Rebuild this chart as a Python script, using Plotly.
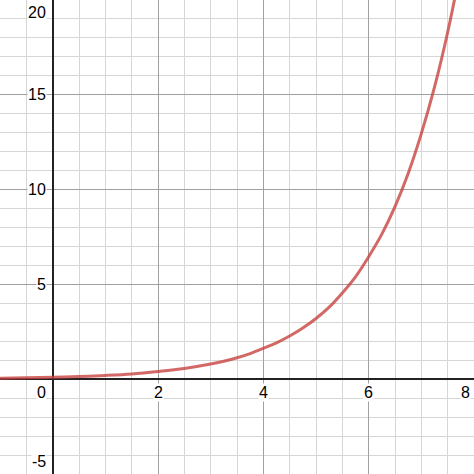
import plotly.graph_objects as go

# curve values
x_vals = [-1, -0.5, 0, 0.5, 1, 1.5, 2, 2.5, 3, 3.25, 3.5, 3.75, 4, 4.25, 4.5, 4.75,
          5, 5.25, 5.5, 5.75, 6, 6.25, 6.5, 6.75, 7, 7.25, 7.5, 7.75]
y_vals = [0.05, 0.07, 0.10, 0.14, 0.2, 0.28, 0.41, 0.57, 0.8, 0.95, 1.13, 1.35, 1.63, 1.92,
          2.28, 2.7, 3.2, 3.8, 4.55, 5.4, 6.46, 7.65, 9.1, 10.85, 12.95, 15.4, 18.3, 21.7]

x_ticks = [2, 4, 6, 8]
y_ticks = [-5, 5, 10, 15, 20]
x_range = [-1, 8]
y_range = [-5, 20]

fig = go.Figure()
fig.add_trace(go.Scatter(x=x_vals, y=y_vals, mode='lines', line_shape='spline',
                         line=dict(color='rgba(199,68,64,0.8)', width=3),
                         hoverinfo='skip'))

font = dict(family='Liberation Sans, Arial, sans-serif', size=16, color='#000')
notes = []
for v in x_ticks:
    notes.append(dict(x=v, y=0, text=str(v), showarrow=False, font=font, bgcolor='white',
                      xanchor='right' if v == x_range[1] else 'center',
                      xshift=-3 if v == x_range[1] else 0,
                      yanchor='top', yshift=-4, borderpad=0))
for v in y_ticks:
    ya, ys = 'middle', 0
    if v == y_range[1]:
        ya, ys = 'top', -3
    elif v == y_range[0]:
        ya, ys = 'bottom', 3
    notes.append(dict(x=0, y=v, text=str(v), showarrow=False, font=font, bgcolor='white',
                      xanchor='right', xshift=-6, yanchor=ya, yshift=ys, borderpad=0))
notes.append(dict(x=0, y=0, text='0', showarrow=False, font=font, bgcolor='white',
                  xanchor='right', xshift=-6, yanchor='top', yshift=-4, borderpad=0))

fig.update_layout(
    width=474, height=474,
    margin={'t': 0, 'b': 0, 'l': 0, 'r': 0},
    plot_bgcolor='white', paper_bgcolor='white',
    showlegend=False,
    annotations=notes,
)
fig.update_xaxes(range=x_range, dtick=2, tick0=0, showticklabels=False,
                 gridcolor='#a0a0a0', gridwidth=1,
                 minor=dict(dtick=0.5, tick0=0, showgrid=True, gridcolor='#d6d6d6', gridwidth=1),
                 zeroline=True, zerolinecolor='#222', zerolinewidth=2)
fig.update_yaxes(range=y_range, dtick=5, tick0=0, showticklabels=False,
                 gridcolor='#a0a0a0', gridwidth=1,
                 minor=dict(dtick=1, tick0=0, showgrid=True, gridcolor='#d6d6d6', gridwidth=1),
                 zeroline=True, zerolinecolor='#222', zerolinewidth=2)

fig.write_html("out.html", config={'displayModeBar': False},
               post_script="document.body.style.margin='0';")
